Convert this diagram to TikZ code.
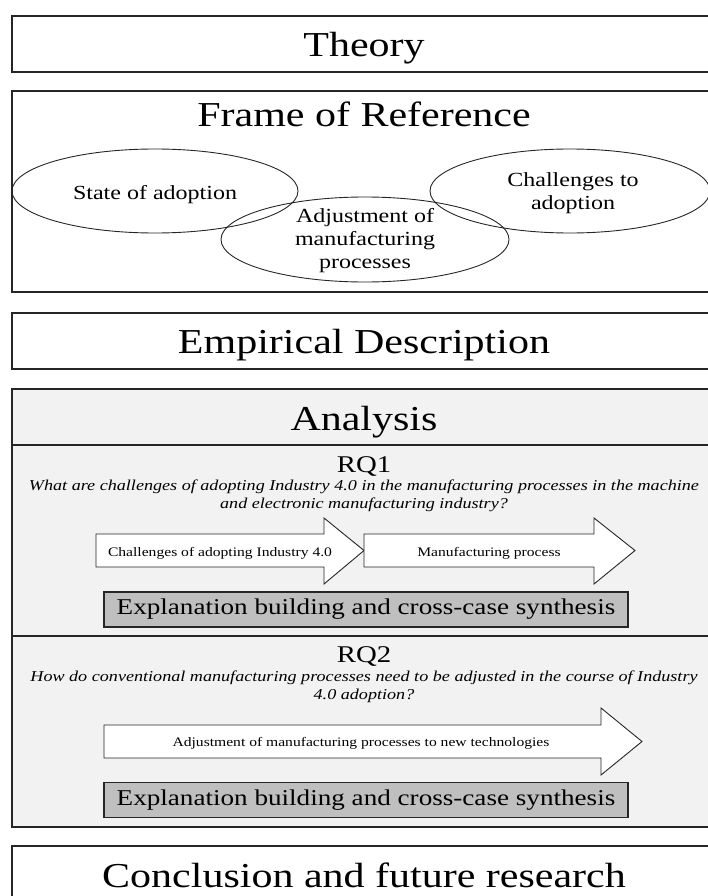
\documentclass[tikz,border=0pt]{standalone}
\usepackage{fontspec}
\setmainfont[FakeStretch=1.2]{Liberation Serif}
\usetikzlibrary{positioning,shapes.geometric}

\definecolor{panelgray}{HTML}{F2F2F2}
\definecolor{synthgray}{HTML}{BFBFBF}
\definecolor{linegray}{HTML}{262626}

\begin{document}
\begin{tikzpicture}[x=1pt,y=-1pt,
    panelbox/.style={draw=linegray, line width=1.2pt, minimum width=704pt, inner sep=0pt},
    rule/.style={draw=linegray, line width=1.2pt},
    heading/.style={anchor=base, font=\fontsize{35}{40}\selectfont},
    rqlabel/.style={anchor=base, font=\fontsize{24}{28}\selectfont},
    question/.style={align=center, font=\fontsize{15.1}{17.5}\selectfont\itshape},
    bubble/.style={ellipse, draw=linegray, line width=0.9pt, inner sep=0pt},
    bubbletext/.style={align=center, font=\fontsize{20}{23}\selectfont},
    blockarrow/.style={draw=linegray, fill=white, line width=0.9pt, line join=miter},
    arrowtext/.style={anchor=base, font=\fontsize{13}{15}\selectfont},
    synthbox/.style={draw=linegray, fill=synthgray, line width=1.2pt, minimum width=524pt,
      minimum height=35pt, inner sep=0pt, font=\fontsize{22.6}{26}\selectfont}]

  \useasboundingbox (0,0) rectangle (707,896);

  % theory
  \node[panelbox, minimum height=56pt] (theorybox) at (364,44) {};
  \node[heading] (theory) at (364,57) {Theory};

  % frame of reference
  \node[panelbox, minimum height=201pt] (framebox) at (364,191.5) {};
  \node[heading] (frame) at (364,127) {Frame of Reference};
  \node[bubble, minimum width=286pt, minimum height=84pt] (state) at (155,191) {};
  \node[bubble, minimum width=280pt, minimum height=84pt] (challenges) at (570,191) {};
  \node[bubble, minimum width=288pt, minimum height=85pt] (adjust) at (365,239.5) {};
  \node[bubbletext] (statetext) at (155,195) {State of adoption};
  \node[bubbletext] (challengestext) at (573,193.5) {Challenges to\\adoption};
  \node[bubbletext] (adjusttext) at (365,240.5) {Adjustment of\\manufacturing\\processes};

  % empirical part
  \node[panelbox, minimum height=56pt] (empbox) at (364,341) {};
  \node[heading] (empirical) at (364,353) {Empirical Description};

  % analysis
  \node[panelbox, fill=panelgray, minimum height=438pt] (analysisbox) at (364,608) {};
  \node[heading] (analysis) at (364,430) {Analysis};
  \draw[rule] (12,445) -- (716,445);
  \draw[rule] (12,636) -- (716,636);

  % RQ1
  \node[rqlabel] (rq1) at (364,472) {RQ1};
  \node[question] (q1) at (364,496) {What are challenges of adopting Industry 4.0 in the manufacturing processes in the machine\\and electronic manufacturing industry?};
  \draw[blockarrow] (96,534) -- (324,534) -- (324,518) -- (364,550.5) -- (324,584) -- (324,567) -- (96,567) -- cycle;
  \draw[blockarrow] (364,534) -- (594,534) -- (594,518) -- (635,550.5) -- (594,584) -- (594,567) -- (364,567) -- cycle;
  \node[arrowtext] (chal) at (220,556) {Challenges of adopting Industry 4.0};
  \node[arrowtext] (manu) at (489,556) {Manufacturing process};
  \node[synthbox] (synth1) at (366,609.5) {Explanation building and cross-case synthesis};

  % RQ2
  \node[rqlabel] (rq2) at (364,662) {RQ2};
  \node[question] (q2) at (364,687) {How do conventional manufacturing processes need to be adjusted in the course of Industry\\4.0 adoption?};
  \draw[blockarrow] (104,725) -- (601,725) -- (601,708) -- (642,741.5) -- (601,775) -- (601,758) -- (104,758) -- cycle;
  \node[arrowtext] (adjarrow) at (361,746) {Adjustment of manufacturing processes to new technologies};
  \node[synthbox] (synth2) at (366,800) {Explanation building and cross-case synthesis};

  % conclusion
  \node[panelbox, minimum height=60pt] (conbox) at (364,876) {};
  \node[heading] (conclusion) at (364,887) {Conclusion and future research};
\end{tikzpicture}
\end{document}
